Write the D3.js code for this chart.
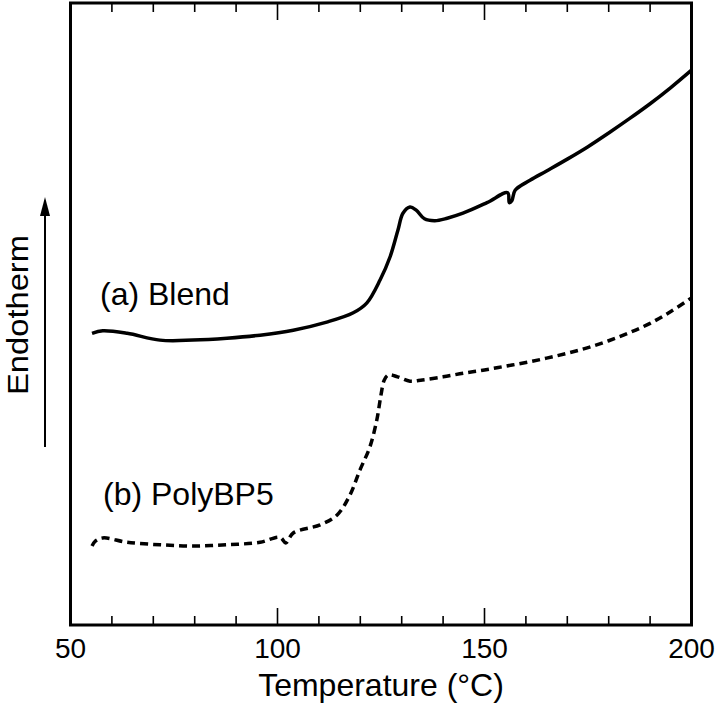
<!DOCTYPE html>
<html>
<head>
<meta charset="utf-8">
<script src="https://cdn.jsdelivr.net/npm/d3@7"></script>
<style>
  html, body { margin: 0; padding: 0; background: #fff; }
  text { font-family: "Liberation Sans", Arial, sans-serif; fill: #000; }
</style>
</head>
<body>
<svg id="chart" width="721" height="707"></svg>
<script>
// ---- data (temperature in °C, heat flow in arbitrary units) ----
const blendTemp = [55.2, 57.8, 63.7, 71.6, 79.6, 87.8, 95.8, 103.8, 111.9, 118.3, 121.6, 124.8, 127.2, 129.1, 130.3, 132.0, 133.5, 135.5, 138.0, 141.0, 144.8, 150.6, 155.6, 156.0, 156.6, 157.4, 161.0, 165, 170, 175, 180, 185, 190, 195, 200];
const blendFlow = [46.9, 47.3, 46.9, 45.8, 45.8, 46.1, 46.6, 47.4, 48.7, 50.2, 51.8, 55.5, 59.2, 63.5, 66.2, 67.2, 66.7, 65.3, 65.0, 65.4, 66.2, 67.9, 69.5, 67.9, 68.2, 69.9, 71.5, 73.0, 74.9, 76.9, 79.1, 81.4, 83.8, 86.4, 89.2];

const polyTemp = [55.2, 56.0, 57.8, 63.7, 71.6, 79.6, 87.8, 95.8, 100.6, 102.0, 103.8, 110.3, 114.4, 117.5, 119.9, 122.3, 124.0, 125.0, 125.8, 126.8, 129, 132, 135, 140, 145, 150, 155, 160, 165, 170, 175, 180, 185, 190, 195, 200];
const polyFlow = [12.7, 13.5, 14.0, 13.3, 12.9, 12.7, 12.9, 13.3, 14.1, 13.2, 14.8, 16.1, 17.7, 20.9, 24.9, 28.6, 33.0, 37.0, 39.4, 40.2, 39.9, 39.2, 39.4, 39.9, 40.5, 41.0, 41.6, 42.2, 42.9, 43.7, 44.6, 45.7, 47.0, 48.5, 50.4, 52.6];

const xMajorTicks = [50, 100, 150, 200];
const xMinorTicks = [60, 70, 80, 90, 110, 120, 130, 140, 160, 170, 180, 190];
const seriesLabels = ["(a) Blend", "(b) PolyBP5"];
const xTitle = "Temperature (°C)";
const yTitle = "Endotherm";

// ---- layout ----
const svg = d3.select("#chart");
const mLeft = 70.5, mRight = 691.5, mTop = 3, mBottom = 625;

const x = d3.scaleLinear().domain([50, 200]).range([mLeft, mRight]);
const y = d3.scaleLinear().domain([0, 100]).range([mBottom, mTop]);

// ticks (inward, bottom and top)
const majorLen = 17, minorLen = 9;
const tickG = svg.append("g").attr("stroke", "#000").attr("stroke-width", 1.6);
xMajorTicks.forEach(t => {
  tickG.append("line").attr("x1", x(t)).attr("x2", x(t)).attr("y1", mBottom).attr("y2", mBottom - majorLen);
  tickG.append("line").attr("x1", x(t)).attr("x2", x(t)).attr("y1", mTop).attr("y2", mTop + majorLen);
});
xMinorTicks.forEach(t => {
  tickG.append("line").attr("x1", x(t)).attr("x2", x(t)).attr("y1", mBottom).attr("y2", mBottom - minorLen);
  tickG.append("line").attr("x1", x(t)).attr("x2", x(t)).attr("y1", mTop).attr("y2", mTop + minorLen);
});

// tick labels
svg.append("g").selectAll("text").data(xMajorTicks).join("text")
  .attr("x", d => x(d)).attr("y", 658)
  .attr("text-anchor", "middle")
  .style("font-size", "28px")
  .text(d => d);

// axis title
svg.append("text")
  .attr("x", (mLeft + mRight) / 2).attr("y", 696)
  .attr("text-anchor", "middle")
  .style("font-size", "32px")
  .text(xTitle);

// y title (rotated) and arrow
svg.append("text")
  .attr("transform", "translate(28,315) rotate(-90)")
  .attr("text-anchor", "middle")
  .attr("textLength", 160)
  .attr("lengthAdjust", "spacingAndGlyphs")
  .style("font-size", "29px")
  .text(yTitle);

svg.append("line")
  .attr("x1", 45).attr("x2", 45).attr("y1", 447).attr("y2", 212)
  .attr("stroke", "#000").attr("stroke-width", 2);
svg.append("path")
  .attr("d", "M45,197 L40,216 L50,216 Z")
  .attr("fill", "#000");

// curves
const line = d3.line()
  .x(d => x(d[0]))
  .y(d => y(d[1]))
  .curve(d3.curveCatmullRom.alpha(0.5));

const blend = d3.zip(blendTemp, blendFlow);
const poly = d3.zip(polyTemp, polyFlow);

svg.append("path")
  .attr("d", line(blend))
  .attr("fill", "none").attr("stroke", "#000")
  .attr("stroke-width", 3.5).attr("stroke-linejoin", "round");

svg.append("path")
  .attr("d", line(poly))
  .attr("fill", "none").attr("stroke", "#000")
  .attr("stroke-width", 3.5).attr("stroke-dasharray", "8,5");

// series labels
svg.append("text").attr("x", 100).attr("y", 305).style("font-size", "32px").text(seriesLabels[0]);
svg.append("text").attr("x", 103).attr("y", 505).style("font-size", "32px").text(seriesLabels[1]);

// frame
svg.append("rect")
  .attr("x", mLeft).attr("y", mTop)
  .attr("width", mRight - mLeft).attr("height", mBottom - mTop)
  .attr("fill", "none").attr("stroke", "#000").attr("stroke-width", 3);
</script>
</body>
</html>
